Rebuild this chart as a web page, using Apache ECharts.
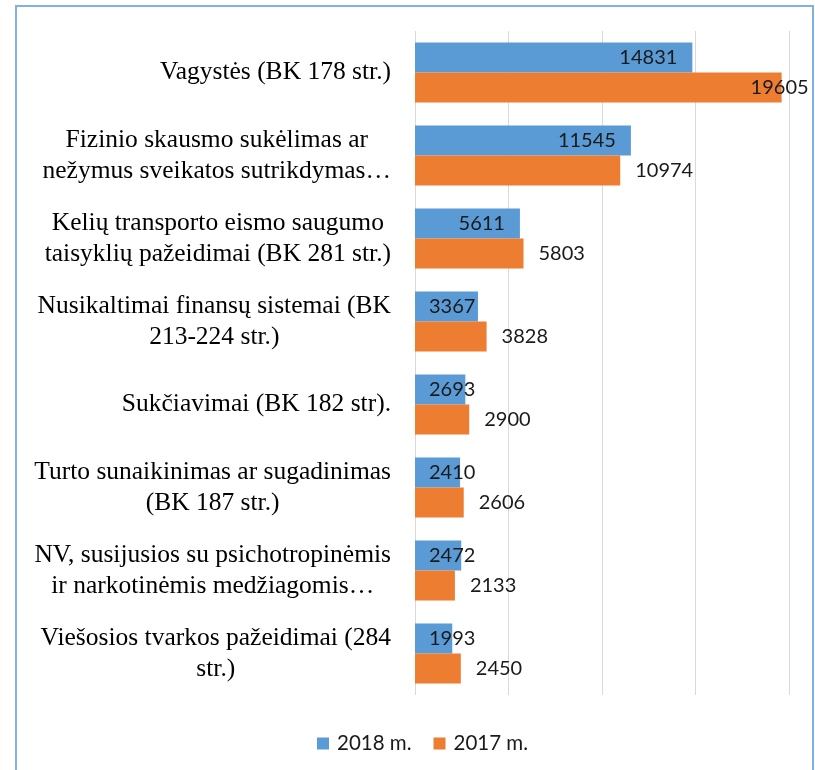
<!DOCTYPE html>
<html>
<head>
<meta charset="utf-8">
<script src="https://cdn.jsdelivr.net/npm/echarts@6/dist/echarts.min.js"></script>
<style>
  html, body { margin: 0; padding: 0; background: #fff; }
  #chart { width: 815px; height: 770px; }
</style>
</head>
<body>
<div id="chart"></div>
<script>
// duomenys
const categories = [
    'Vagystės (BK 178 str.)',
    'Fizinio skausmo sukėlimas ar\nnežymus sveikatos sutrikdymas…',
    'Kelių transporto eismo saugumo\ntaisyklių pažeidimai (BK 281 str.)',
    'Nusikaltimai finansų sistemai (BK\n213-224 str.)',
    'Sukčiavimai (BK 182 str).',
    'Turto sunaikinimas ar sugadinimas\n(BK 187 str.)',
    'NV, susijusios su psichotropinėmis\nir narkotinėmis medžiagomis…',
    'Viešosios tvarkos pažeidimai (284\nstr.)'
];
const values2018 = [14831, 11545, 5611, 3367, 2693, 2410, 2472, 1993];
const values2017 = [19605, 10974, 5803, 3828, 2900, 2606, 2133, 2450];
const seriesNames = ['2018 m.', '2017 m.'];

document.addEventListener('DOMContentLoaded', function() {
    const myChart = echarts.init(document.getElementById('chart'));

    const labelFont = {
        fontFamily: 'Lato',
        fontSize: 20,
        color: '#1a1a1a'
    };

    // mėlyni: viduje prie galo, trumpi - nuo ašies
    const data2018 = values2018.map(function(v) {
        return {
            value: v,
            label: v >= 5000
                ? { position: 'insideRight', distance: 15 }
                : { position: 'insideLeft', distance: 14 }
        };
    });
    // oranžiniai: už galo, per ilgas - prispaustas
    const data2017 = values2017.map(function(v) {
        return {
            value: v,
            label: v > 18000
                ? { position: 'insideRight', distance: 0, offset: [27, 0] }
                : { position: 'right', distance: 15 }
        };
    });

    const option = {
        animation: false,
        graphic: [{
            type: 'rect',
            shape: { x: 16, y: 6, width: 797, height: 800 },
            style: { fill: 'none', stroke: '#7fb1e6', lineWidth: 2 },
            silent: true
        }],
        legend: {
            data: seriesNames,
            top: 728,
            left: 312,
            itemWidth: 12,
            itemHeight: 12,
            itemGap: 22,
            icon: 'rect',
            textStyle: {
                fontFamily: 'Lato',
                fontSize: 20.5,
                color: '#1a1a1a',
                padding: [0, 0, 0, 3]
            }
        },
        grid: {
            left: 415,
            right: 26,
            top: 31,
            bottom: 75,
            containLabel: false
        },
        xAxis: {
            type: 'value',
            min: 0,
            max: 20000,
            interval: 5000,
            axisLine: { show: false },
            axisTick: { show: false },
            axisLabel: { show: false },
            splitLine: {
                lineStyle: { color: '#d9d9d9', width: 1 }
            }
        },
        yAxis: {
            type: 'category',
            inverse: true,
            data: categories,
            axisLine: { show: false },
            axisTick: { show: false },
            axisLabel: {
                margin: 24,
                formatter: function(value) {
                    return value.split('\n').map(function(line) {
                        return '{a|' + line + '}';
                    }).join('\n');
                },
                rich: {
                    a: {
                        fontFamily: 'Liberation Serif',
                        fontSize: 25.5,
                        lineHeight: 31,
                        align: 'center',
                        color: '#000'
                    }
                }
            }
        },
        series: [
            {
                name: seriesNames[0],
                type: 'bar',
                data: data2018,
                barWidth: 30,
                barGap: '0%',
                itemStyle: { color: '#5b9bd5' },
                label: Object.assign({ show: true }, labelFont)
            },
            {
                name: seriesNames[1],
                type: 'bar',
                data: data2017,
                barWidth: 30,
                barGap: '0%',
                itemStyle: { color: '#ed7d31' },
                label: Object.assign({ show: true }, labelFont)
            }
        ]
    };
    myChart.setOption(option);
});
</script>
</body>
</html>
